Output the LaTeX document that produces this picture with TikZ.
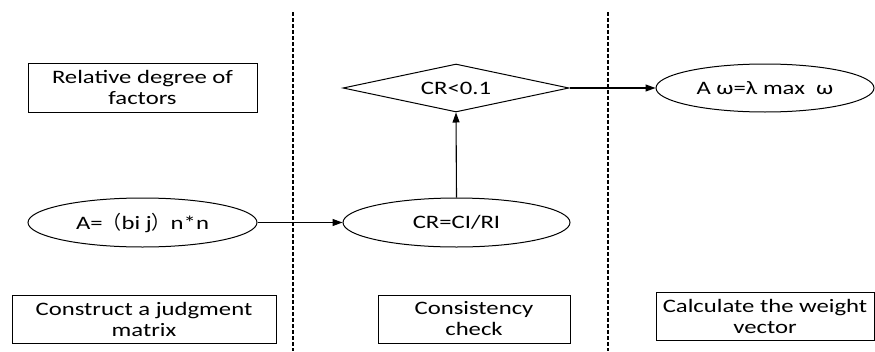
\documentclass[tikz,border=0pt]{standalone}
\usepackage{fontspec}
\setmainfont[FakeStretch=1.3]{Carlito}
\newfontfamily\cjk{Noto Sans CJK SC}
\usetikzlibrary{shapes.geometric,arrows.meta}
\tikzset{
  every node/.style={font=\fontsize{19}{21}\selectfont},
  lbl/.style={draw, line width=1pt, rectangle, inner sep=0pt, align=center},
  ell/.style={draw, line width=1pt, ellipse, inner sep=0pt, minimum width=229pt, minimum height=49pt},
  dia/.style={draw, line width=1pt, diamond, aspect=4.7, inner sep=0pt, minimum width=226pt, minimum height=48pt},
  sep/.style={line width=1.2pt, dash pattern=on 3.5pt off 2.5pt},
  conn/.style={line width=1.1pt, -{Triangle[length=10pt,width=7pt]}}
}
\begin{document}
\begin{tikzpicture}[x=1pt,y=-1pt]
\useasboundingbox (0,0) rectangle (875,351);
% separators
\coordinate (s1t) at (293,12); \coordinate (s1b) at (293,351);
\coordinate (s2t) at (608,12); \coordinate (s2b) at (608,351);
\draw[sep] (s1t) -- (s1b);
\draw[sep] (s2t) -- (s2b);
% top-left box
\node[lbl, minimum width=229pt, minimum height=49pt] (rel) at (142.5,87.5) {Relative degree of\\factors};
% diamond
\node[dia] (cr1) at (456,88) {CR<0.1};
% right ellipse
\node[ell, minimum width=218pt, minimum height=48pt] (aw) at (765,88) {A ω=λ max\ \ ω};
% middle ellipses
\node[ell] (amat) at (142.5,222.5) {A={\cjk （}bi j{\cjk ）}n*n};
\node[ell, minimum width=227pt] (crci) at (456.5,222.5) {CR=CI/RI};
% bottom boxes
\node[lbl, minimum width=264pt, minimum height=48pt] (cons) at (144,319.5) {Construct a judgment\\matrix};
\node[lbl, minimum width=192pt, minimum height=48pt] (chk) at (474,319) {Consistency\\check};
\node[lbl, minimum width=218pt, minimum height=48pt] (calc) at (765,316) {Calculate the weight\\vector};
% connectors
\draw[conn] (amat.east) -- (crci.west);
\draw[conn] (crci.north) -- (cr1.south);
\draw[conn] (cr1.east) -- (aw.west);
\end{tikzpicture}
\end{document}
